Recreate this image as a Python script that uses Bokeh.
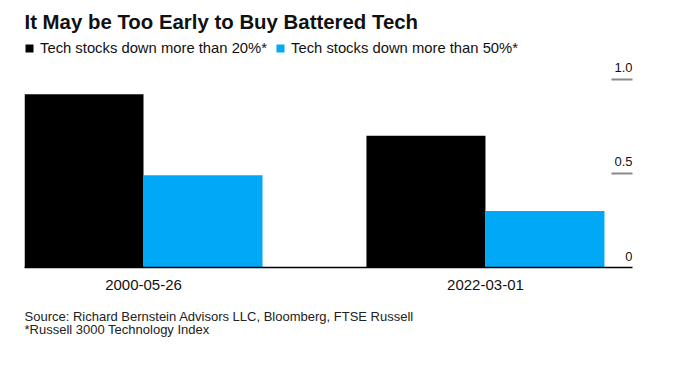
from bokeh.plotting import figure
from bokeh.models import Range1d, LinearAxis, FixedTicker, Legend, LegendItem, Title, ColumnDataSource
from bokeh.transform import dodge
from bokeh.core.properties import value
from bokeh.embed import file_html
from bokeh.resources import INLINE

# ---- data ----
dates = ["2000-05-26", "2022-03-01"]
series_names = ["Tech stocks down more than 20%*", "Tech stocks down more than 50%*"]
down_20 = [0.92, 0.70]
down_50 = [0.49, 0.30]
y_ticks = [0, 0.5, 1.0]
y_tick_labels = ["0", "0.5", "1.0"]
title_text = "It May be Too Early to Buy Battered Tech"
source_text = "Source: Richard Bernstein Advisors LLC, Bloomberg, FTSE Russell"
note_text = "*Russell 3000 Technology Index"

BLACK = "#000000"
BLUE = "#00A8F6"
FONT = "Liberation Sans"

xpos = list(range(len(dates)))
src = ColumnDataSource(dict(x=xpos, d20=down_20, d50=down_50))

bar_w = 0.348
x_end = 1.43
p = figure(width=658, height=352, output_backend="svg", toolbar_location=None,
           x_range=Range1d(-bar_w, x_end), y_range=Range1d(0, 1.206),
           min_border_left=24, min_border_right=26, min_border_top=0, min_border_bottom=84,
           outline_line_color=None, background_fill_color="white")
p.grid.visible = False
p.yaxis.visible = False

r1 = p.vbar(x=dodge("x", -bar_w / 2, range=p.x_range), top="d20", width=bar_w, source=src,
            fill_color=BLACK, line_color=None)
r2 = p.vbar(x=dodge("x", bar_w / 2, range=p.x_range), top="d50", width=bar_w, source=src,
            fill_color=BLUE, line_color=None)

# x axis
xa = p.xaxis[0]
xa.ticker = FixedTicker(ticks=xpos)
xa.major_label_overrides = {i: d for i, d in enumerate(dates)}
xa.major_tick_line_color = None
xa.minor_tick_line_color = None
xa.axis_line_color = BLACK
xa.axis_line_width = 1.5
xa.major_label_text_font = FONT
xa.major_label_text_font_size = "15px"
xa.major_label_text_color = "#111111"
xa.major_label_standoff = 6

# right axis: only short gray ticks inside the frame
ra = LinearAxis(ticker=FixedTicker(ticks=[t for t in y_ticks if t > 0]),
                axis_line_color=None, major_tick_in=21, major_tick_out=0,
                major_tick_line_color="#8a8a8a", major_tick_line_width=2,
                minor_tick_line_color=None, major_label_text_alpha=0,
                major_label_text_font_size="1px")
p.add_layout(ra, "right")

# y tick labels above the tick marks
lab_src = ColumnDataSource(dict(x=[x_end] * len(y_ticks), y=y_ticks, t=y_tick_labels))
p.text(x="x", y="y", text="t", source=lab_src, text_align="right", text_baseline="bottom",
       y_offset=-7, text_font=value(FONT), text_font_size="13px", text_color="#111111")

# legend inside the frame, at its top-left
legend = Legend(items=[LegendItem(label=series_names[0], renderers=[r1]),
                       LegendItem(label=series_names[1], renderers=[r2])],
                orientation="horizontal", location="top_left",
                glyph_width=10, glyph_height=10, label_standoff=6, spacing=8,
                padding=0, margin=0, border_line_color=None, background_fill_alpha=0,
                label_text_font=FONT, label_text_font_size="14.8px", label_text_color="#111111")
p.add_layout(legend)

p.title.text = title_text
p.title.text_font = FONT
p.title.text_font_size = "20.4px"
p.title.text_font_style = "bold"
p.title.text_color = "#111111"
p.title.standoff = 16
p.title.offset = 0

p.add_layout(Title(text=source_text + "\n" + note_text, text_font=FONT, text_font_size="13px",
                   text_font_style="normal", text_color="#222222", standoff=30,
                   text_line_height=0.88), "below")

open("out.html", "w").write(file_html(p, INLINE))
